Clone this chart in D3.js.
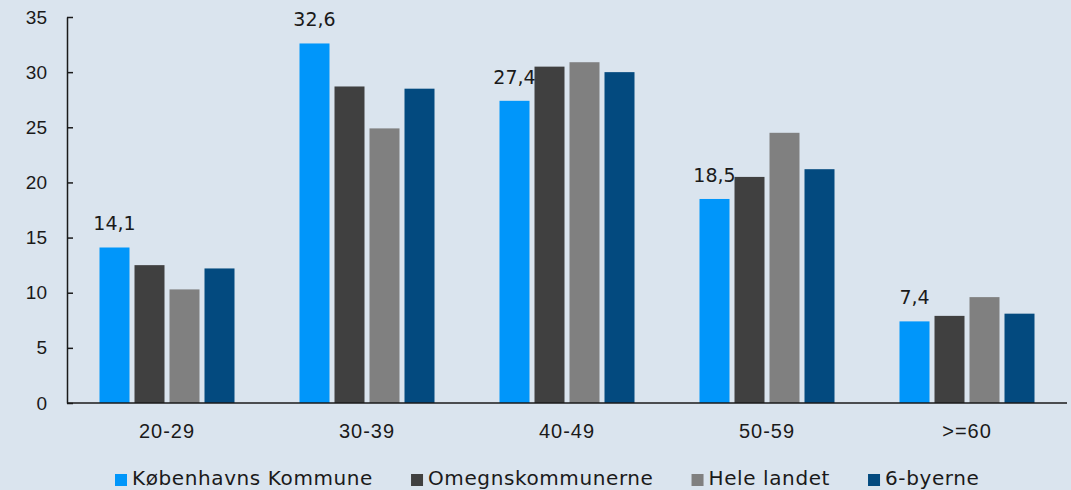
<!DOCTYPE html>
<html lang="da">
<head>
<meta charset="UTF-8">
<title>Aldersfordeling</title>
<style>
  body { margin: 0; background: #dae4ee; }
  svg { display: block; font-family: "DejaVu Sans", sans-serif; }
  .axis text { fill: #1a1a1a; font-size: 19px; }
  .axis.x text { font-size: 20px; letter-spacing: 1px; }
  .axis path, .axis line { stroke: #1a1a1a; stroke-width: 1.5; }
</style>
</head>
<body>
<svg width="1071" height="490"></svg>
<script src="https://d3js.org/d3.v7.min.js"></script>
<script>
// age groups
var categories = ["20-29", "30-39", "40-49", "50-59", ">=60"];
var seriesNames = ["Københavns Kommune", "Omegnskommunerne", "Hele landet", "6-byerne"];
var seriesColors = ["#0096fa", "#404040", "#808080", "#034a7f"];

var kbh = [14.1, 32.6, 27.4, 18.5, 7.4];
var omegn = [12.5, 28.7, 30.5, 20.5, 7.9];
var hele = [10.3, 24.9, 30.9, 24.5, 9.6];
var byer6 = [12.2, 28.5, 30.0, 21.2, 8.1];
var yTicks = [0, 5, 10, 15, 20, 25, 30, 35];

var series = [kbh, omegn, hele, byer6];

var svg = d3.select("svg"),
    margin = {top: 17, right: 4, bottom: 87, left: 67},
    width = +svg.attr("width") - margin.left - margin.right,
    height = +svg.attr("height") - margin.top - margin.bottom,
    g = svg.append("g").attr("transform", "translate(" + margin.left + "," + margin.top + ")");

var x0 = d3.scaleBand().domain(categories).range([0, 1000]).paddingInner(0).paddingOuter(0);
var x1 = d3.scaleBand().domain(d3.range(series.length)).range([32.5, 167.5]).paddingInner(5 / 35).paddingOuter(0);
var y = d3.scaleLinear().domain([0, 35]).range([height, 0]);

var rows = categories.map(function(c, i) {
  return series.map(function(s, k) { return {cat: c, key: k, value: s[i]}; });
});

var groups = g.append("g").selectAll("g")
  .data(rows)
  .enter().append("g")
  .attr("transform", function(d, i) { return "translate(" + x0(categories[i]) + ",0)"; });

groups.selectAll("rect")
  .data(function(d) { return d; })
  .enter().append("rect")
  .attr("x", function(d) { return x1(d.key); })
  .attr("width", x1.bandwidth())
  .attr("y", function(d) { return y(d.value); })
  .attr("height", function(d) { return height - y(d.value); })
  .attr("fill", function(d) { return seriesColors[d.key]; });

// labels only on first series
groups.append("text")
  .attr("x", x1(0) + x1.bandwidth() / 2)
  .attr("y", function(d) { return y(d[0].value) - 17; })
  .attr("text-anchor", "middle")
  .style("font-size", "19px")
  .style("fill", "#1a1a1a")
  .text(function(d) { return String(d[0].value).replace(".", ","); });

g.append("g")
  .attr("class", "axis y")
  .call(d3.axisLeft(y).tickValues(yTicks).tickSizeInner(-6).tickSizeOuter(0).tickPadding(20))
  .call(function(a) { a.selectAll("text").attr("x", -20); });

g.append("g")
  .attr("class", "axis x")
  .attr("transform", "translate(0," + height + ")")
  .call(d3.axisBottom(x0).tickSize(0).tickPadding(21))
  .call(function(a) { a.select(".domain").attr("d", "M0,0H1000"); });

// legend
var legend = svg.append("g").attr("transform", "translate(115,485)");
var lx = 0;
seriesNames.forEach(function(name, k) {
  var item = legend.append("g").attr("transform", "translate(" + lx + ",0)");
  item.append("rect").attr("x", 0).attr("y", -11).attr("width", 12).attr("height", 12).attr("fill", seriesColors[k]);
  var t = item.append("text").attr("x", 17).attr("y", 0)
    .style("font-size", "20px").style("letter-spacing", "0.6px").style("fill", "#1a1a1a").text(name);
  lx += 17 + t.node().getComputedTextLength() + 38;
});
</script>
</body>
</html>
